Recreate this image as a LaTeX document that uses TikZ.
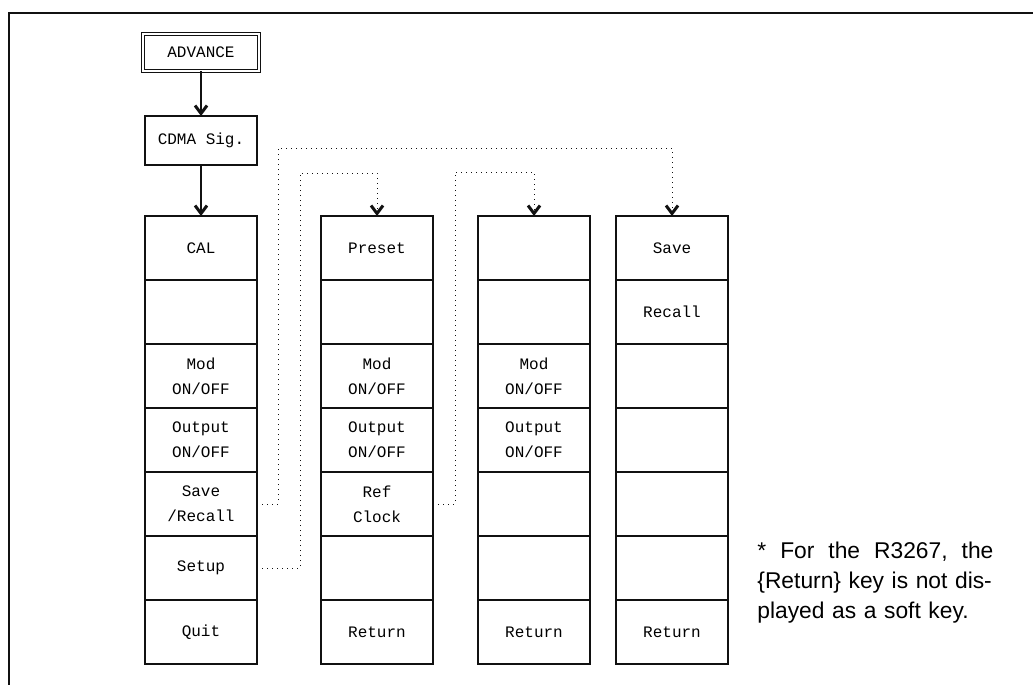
\documentclass[tikz,border=0pt]{standalone}
\usepackage{fontspec}
\setmonofont{Liberation Mono}
\newfontfamily\notefont{Liberation Sans}
\usepackage{tikz}
\usetikzlibrary{arrows.meta,positioning}
\definecolor{ink}{HTML}{111111}
\tikzset{
  softkey/.style={draw=ink, line width=0.9pt, outer sep=0pt, inner sep=0pt, align=center, minimum width=56pt, minimum height=32pt, font=\ttfamily\fontsize{8}{12.5}\selectfont},
  menukey/.style={softkey, minimum height=24.5pt},
  topkey/.style={softkey, line width=0.55pt, double, double distance=1pt, minimum width=58pt, minimum height=18.5pt},
  arrow/.style={-{Straight Barb[length=4pt,width=6pt,line width=1.5pt]}, line width=0.9pt, draw=ink},
  dotarrow/.style={-{Straight Barb[length=4pt,width=6pt,line width=1.5pt]}, line width=0.5pt, dotted, draw=ink},
  frame/.style={line width=0.8pt, draw=ink},
  note/.style={anchor=west, inner sep=0pt, text width=118pt, align=left, font=\notefont\fontsize{11.4}{15}\selectfont}
}

\begin{document}
\begin{tikzpicture}[x=0.5pt, y=-0.5pt]
  \useasboundingbox (0,0) rectangle (1033,685);
  \draw[frame] (9,685) -- (9,13) -- (1033,13);

  \node[topkey] (advance) at (201,52.5) {ADVANCE};
  \node[menukey] (cdma) at (201,140.5) {CDMA Sig.};

  % first soft key menu
  \node[softkey] (cal) at (201,248) {CAL};
  \node[softkey, below=0pt of cal] (c1blank) {};
  \node[softkey, below=0pt of c1blank] (c1mod) {Mod\\ON/OFF};
  \node[softkey, below=0pt of c1mod] (c1out) {Output\\ON/OFF};
  \node[softkey, below=0pt of c1out] (saverec) {Save\\/Recall};
  \node[softkey, below=0pt of saverec] (setup) {Setup};
  \node[softkey, below=0pt of setup] (quit) {Quit};

  % setup menu
  \node[softkey, right=32pt of cal] (preset) {Preset};
  \node[softkey, below=0pt of preset] (c2blanka) {};
  \node[softkey, below=0pt of c2blanka] (c2mod) {Mod\\ON/OFF};
  \node[softkey, below=0pt of c2mod] (c2out) {Output\\ON/OFF};
  \node[softkey, below=0pt of c2out] (refclk) {Ref\\Clock};
  \node[softkey, below=0pt of refclk] (c2blankb) {};
  \node[softkey, below=0pt of c2blankb] (c2ret) {Return};

  % ref clock menu
  \node[softkey, right=22.5pt of preset] (c3top) {};
  \node[softkey, below=0pt of c3top] (c3blanka) {};
  \node[softkey, below=0pt of c3blanka] (c3mod) {Mod\\ON/OFF};
  \node[softkey, below=0pt of c3mod] (c3out) {Output\\ON/OFF};
  \node[softkey, below=0pt of c3out] (c3blankb) {};
  \node[softkey, below=0pt of c3blankb] (c3blankc) {};
  \node[softkey, below=0pt of c3blankc] (c3ret) {Return};

  % save/recall menu
  \node[softkey, right=13pt of c3top] (save) {Save};
  \node[softkey, below=0pt of save] (recall) {Recall};
  \node[softkey, below=0pt of recall] (c4blanka) {};
  \node[softkey, below=0pt of c4blanka] (c4blankb) {};
  \node[softkey, below=0pt of c4blankb] (c4blankc) {};
  \node[softkey, below=0pt of c4blankc] (c4blankd) {};
  \node[softkey, below=0pt of c4blankd] (c4ret) {Return};

  \node[note] (footnote) at (757,583) {\makebox[118pt][l]{*\hfill For\hfill the\hfill R3267,\hfill the}\\\makebox[118pt][l]{\{Return\} key is not dis-}\\played as a soft key.};

  \draw[arrow] (advance) -- (cdma);
  \draw[arrow] (cdma) -- (cal);
  \draw[dotarrow] (saverec.east) -- ++(21,0) |- ([yshift=34pt]save.north) -- (save.north);
  \draw[dotarrow] (setup.east) -- ++(43,0) |- ([yshift=21.5pt]preset.north) -- (preset.north);
  \draw[dotarrow] (refclk.east) -- ++(22,0) |- ([yshift=22pt]c3top.north) -- (c3top.north);
\end{tikzpicture}
\end{document}
